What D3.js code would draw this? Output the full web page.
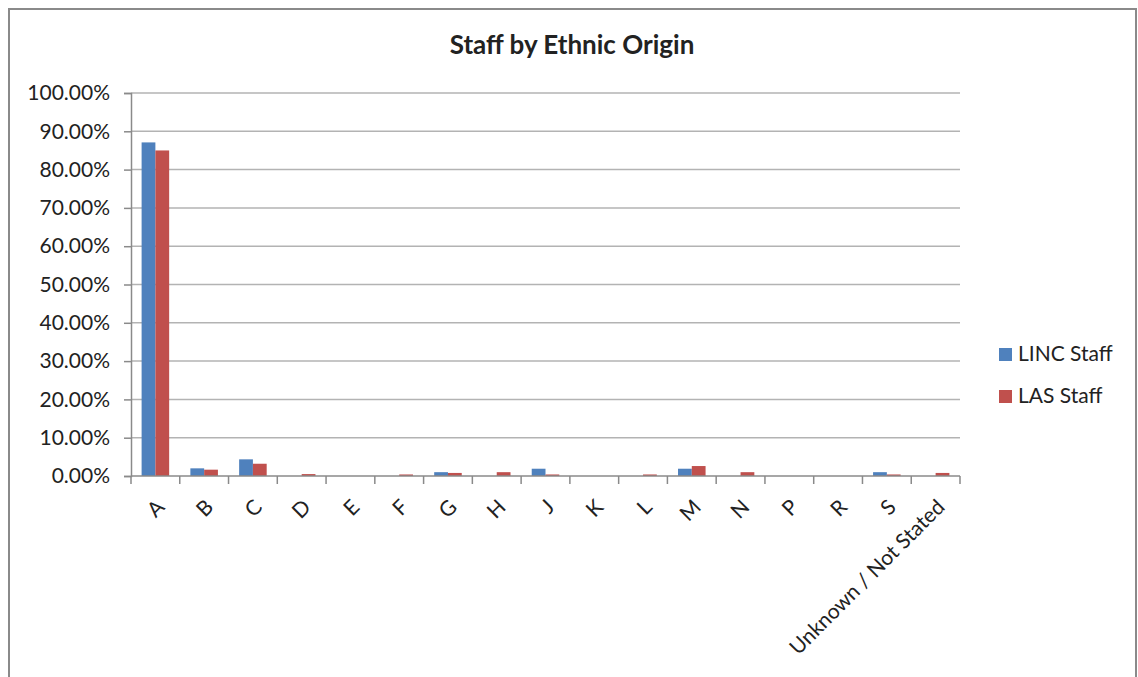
<!DOCTYPE html>
<html>
<head>
<meta charset="utf-8">
<script src="https://cdn.jsdelivr.net/npm/d3@7"></script>
<style>
  body { margin: 0; background: #fff; }
  text { font-family: Lato, "Open Sans", sans-serif; fill: #222; }
</style>
</head>
<body>
<script>
// Chart data
var categories = ["A", "B", "C", "D", "E", "F", "G", "H", "J", "K", "L", "M", "N", "P", "R", "S", "Unknown / Not Stated"];
var seriesNames = ["LINC Staff", "LAS Staff"];
var lincStaff = [87.1, 2.0, 4.35, 0, 0, 0, 1.0, 0, 1.9, 0, 0, 1.9, 0, 0, 0, 1.0, 0];
var lasStaff  = [85.0, 1.65, 3.2, 0.5, 0, 0.4, 0.8, 1.0, 0.4, 0, 0.4, 2.6, 1.0, 0, 0, 0.4, 0.8];
var yTicks = [0, 10, 20, 30, 40, 50, 60, 70, 80, 90, 100];
var colors = ["#4F81BD", "#C0504D"];

var svgWidth = 1138;
var svgHeight = 677;
var margin = { top: 93, right: 178, bottom: 201, left: 131 };
var width = svgWidth - margin.left - margin.right;
var height = svgHeight - margin.top - margin.bottom;

var svg = d3.select("body").append("svg")
    .attr("width", svgWidth)
    .attr("height", svgHeight);

// outer chart border
svg.append("rect")
    .attr("x", 9).attr("y", 9)
    .attr("width", 1127).attr("height", 680)
    .attr("fill", "none")
    .attr("stroke", "#8a8a8a")
    .attr("stroke-width", 2);

svg.append("text")
    .attr("x", 572).attr("y", 54)
    .attr("text-anchor", "middle")
    .style("font-size", "26px")
    .style("font-weight", "bold")
    .text("Staff by Ethnic Origin");

var chartGroup = svg.append("g")
    .attr("transform", `translate(${margin.left}, ${margin.top})`);

var x0 = d3.scaleBand().domain(categories).range([0, width]).paddingInner(0.435).paddingOuter(0.2175);
var x1 = d3.scaleBand().domain(seriesNames).range([0, x0.bandwidth()]);
var yScale = d3.scaleLinear().domain([0, 100]).range([height, 0]);

// gridlines
chartGroup.selectAll(".grid")
    .data(yTicks.slice(1))
    .enter().append("line")
    .attr("x1", 0).attr("x2", width)
    .attr("y1", d => yScale(d)).attr("y2", d => yScale(d))
    .attr("stroke", "#b3b3b3")
    .attr("stroke-width", 1.5);

// y axis
var leftAxis = d3.axisLeft(yScale).tickValues(yTicks)
    .tickFormat(d => d.toFixed(2) + "%").tickSize(7).tickPadding(14);
var yAxisG = chartGroup.append("g").call(leftAxis);
yAxisG.select(".domain").attr("stroke", "#8a8a8a").attr("stroke-width", 1.5);
yAxisG.selectAll(".tick line").attr("stroke", "#8a8a8a").attr("stroke-width", 1.5);
yAxisG.selectAll(".tick text").style("font-size", "21px").style("font-family", "Lato, 'Open Sans', sans-serif").attr("fill", "#222");

// bars
var rows = categories.map((c, i) => ({ cat: c, vals: [lincStaff[i], lasStaff[i]] }));
var groups = chartGroup.selectAll(".cat")
    .data(rows)
    .enter().append("g")
    .attr("transform", d => `translate(${x0(d.cat)},0)`);

groups.selectAll("rect")
    .data(d => d.vals.map((v, j) => ({ name: seriesNames[j], v: v, j: j })))
    .enter().append("rect")
    .filter(d => d.v > 0)
    .attr("x", d => x1(d.name))
    .attr("y", d => yScale(d.v))
    .attr("width", x1.bandwidth())
    .attr("height", d => height - yScale(d.v))
    .attr("fill", d => colors[d.j]);

// x axis with ticks between categories
var xAxisG = chartGroup.append("g").attr("transform", `translate(0, ${height})`);
xAxisG.append("line")
    .attr("x1", 0).attr("x2", width)
    .attr("stroke", "#8a8a8a").attr("stroke-width", 1.5);
var step = x0.step();
xAxisG.selectAll(".xt")
    .data(d3.range(categories.length + 1))
    .enter().append("line")
    .attr("x1", d => d * step).attr("x2", d => d * step)
    .attr("y1", 0).attr("y2", 8)
    .attr("stroke", "#8a8a8a").attr("stroke-width", 1.5);
xAxisG.selectAll(".xl")
    .data(categories)
    .enter().append("text")
    .attr("transform", d => `translate(${x0(d) + x0.bandwidth() / 2}, 22) rotate(-45)`)
    .attr("text-anchor", "end")
    .attr("dy", "0.7em")
    .style("font-size", "21px")
    .text(d => d);

// legend
var legend = svg.append("g").attr("transform", "translate(999, 348)");
seriesNames.forEach(function(name, i) {
    var g = legend.append("g").attr("transform", `translate(0, ${i * 42})`);
    g.append("rect").attr("width", 13).attr("height", 13).attr("fill", colors[i]);
    g.append("text").attr("x", 19).attr("y", 13).style("font-size", "21px").text(name);
});
</script>
</body>
</html>
